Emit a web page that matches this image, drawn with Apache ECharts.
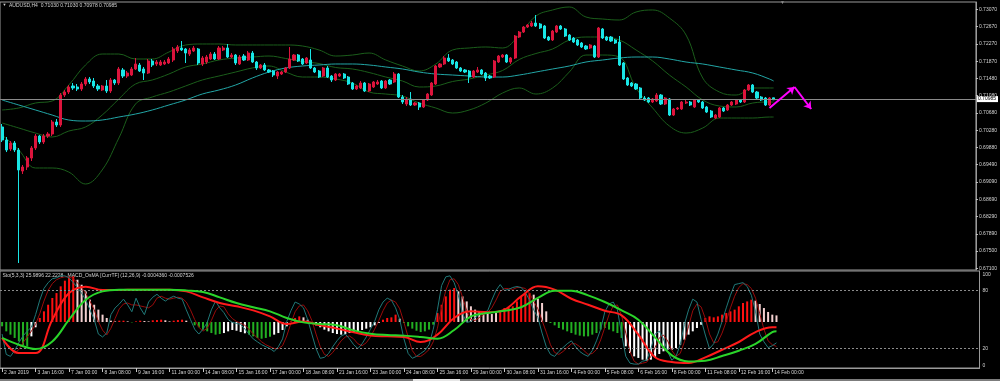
<!DOCTYPE html>
<html><head><meta charset="utf-8">
<script src="https://cdn.jsdelivr.net/npm/echarts/dist/echarts.min.js"></script>
<style>html,body{margin:0;padding:0;background:#000;overflow:hidden}#c{width:1000px;height:381px}</style>
</head><body><div id="c"></div><script>
// ---------- DATA ----------
const tickLabels = ['2 Jan 2019','3 Jan 16:00','7 Jan 00:00','8 Jan 08:00','9 Jan 16:00','11 Jan 00:00','14 Jan 08:00','15 Jan 16:00','17 Jan 00:00','18 Jan 08:00','21 Jan 16:00','23 Jan 00:00','24 Jan 08:00','25 Jan 16:00','29 Jan 00:00','30 Jan 08:00','31 Jan 16:00','4 Feb 00:00','5 Feb 08:00','6 Feb 16:00','8 Feb 00:00','11 Feb 08:00','12 Feb 16:00','14 Feb 00:00'];
const priceTicks = [0.73070,0.72670,0.72270,0.71870,0.71480,0.71080,0.70680,0.70280,0.69880,0.69490,0.69090,0.68690,0.68290,0.67890,0.67500,0.67100];
const stoTicks = [0,20,80,100];
const lastPrice = 0.70985;

const opens = [0.70357,0.70057,0.69850,0.69988,0.69827,0.69342,0.69435,0.69642,0.69873,0.70149,
0.70011,0.70149,0.70195,0.70472,0.70403,0.71094,0.71163,0.71302,0.71279,0.71233,
0.71348,0.71463,0.71417,0.71302,0.71210,0.71302,0.71186,0.71440,0.71371,0.71671,
0.71532,0.71555,0.71694,0.71786,0.71694,0.71601,0.71878,0.71809,0.71786,0.71809,
0.71832,0.71901,0.72108,0.72178,0.72155,0.72039,0.72108,0.72155,0.71809,0.71855,
0.71924,0.72039,0.71924,0.72132,0.72178,0.71970,0.72016,0.71809,0.71993,0.71901,
0.72062,0.71855,0.71717,0.71786,0.71671,0.71647,0.71532,0.71578,0.71624,0.71717,
0.71901,0.72016,0.71924,0.71832,0.71901,0.71717,0.71647,0.71532,0.71717,0.71532,
0.71440,0.71532,0.71578,0.71509,0.71371,0.71233,0.71256,0.71371,0.71186,0.71279,
0.71348,0.71417,0.71256,0.71440,0.71394,0.71578,0.71048,0.70887,0.71002,0.70864,
0.70910,0.70818,0.70979,0.71094,0.71348,0.71740,0.71809,0.71947,0.71901,0.71855,
0.71717,0.71671,0.71647,0.71509,0.71624,0.71671,0.71601,0.71532,0.71509,0.71855,
0.71970,0.72016,0.71855,0.71947,0.72431,0.72546,0.72662,0.72685,0.72754,0.72731,
0.72685,0.72431,0.72362,0.72546,0.72685,0.72616,0.72477,0.72408,0.72362,0.72293,
0.72224,0.72178,0.72224,0.71970,0.72616,0.72431,0.72431,0.72362,0.72316,0.71832,
0.71486,0.71371,0.71348,0.71256,0.71025,0.71025,0.70933,0.70956,0.71094,0.70887,
0.71002,0.70633,0.70772,0.70772,0.70910,0.70933,0.70818,0.70979,0.70933,0.70818,
0.70725,0.70564,0.70587,0.70795,0.70749,0.70864,0.70887,0.70979,0.70933,0.71210,
0.71325,0.71163,0.71048,0.71025,0.70864,0.71030];
const closes = [0.70057,0.69827,0.69988,0.69827,0.69366,0.69435,0.69642,0.69873,0.70149,0.70011,
0.70149,0.70195,0.70472,0.70403,0.71094,0.71163,0.71279,0.71256,0.71233,0.71348,
0.71463,0.71394,0.71302,0.71233,0.71302,0.71186,0.71440,0.71371,0.71694,0.71532,
0.71601,0.71694,0.71809,0.71647,0.71601,0.71878,0.71786,0.71855,0.71855,0.71855,
0.71924,0.72155,0.72201,0.72132,0.72062,0.72132,0.72178,0.71832,0.71947,0.71970,
0.72039,0.71924,0.72178,0.72178,0.71970,0.72016,0.71832,0.71970,0.71901,0.72062,
0.71855,0.71717,0.71786,0.71671,0.71624,0.71555,0.71624,0.71624,0.71717,0.71924,
0.72016,0.71878,0.71809,0.71947,0.71717,0.71624,0.71509,0.71717,0.71509,0.71440,
0.71578,0.71578,0.71486,0.71348,0.71233,0.71302,0.71371,0.71186,0.71348,0.71394,
0.71394,0.71256,0.71417,0.71348,0.71578,0.71048,0.70933,0.71002,0.70864,0.70910,
0.70818,0.70979,0.71117,0.71371,0.71763,0.71809,0.71947,0.71878,0.71809,0.71717,
0.71647,0.71624,0.71509,0.71647,0.71671,0.71578,0.71486,0.71486,0.71878,0.71993,
0.72016,0.71855,0.71947,0.72454,0.72546,0.72662,0.72708,0.72754,0.72685,0.72639,
0.72408,0.72362,0.72569,0.72685,0.72616,0.72454,0.72362,0.72316,0.72247,0.72201,
0.72155,0.72247,0.71970,0.72639,0.72408,0.72362,0.72339,0.72293,0.71786,0.71463,
0.71325,0.71302,0.71233,0.71025,0.70979,0.70933,0.71002,0.71094,0.70887,0.71025,
0.70633,0.70772,0.70795,0.70933,0.70933,0.70864,0.70979,0.70933,0.70795,0.70702,
0.70587,0.70633,0.70795,0.70725,0.70864,0.70933,0.70979,0.70933,0.71210,0.71325,
0.71163,0.71025,0.70979,0.70864,0.71025,0.70985];
const lows = [0.70011,0.69780,0.69803,0.69780,0.67222,0.69273,0.69366,0.69573,0.69827,0.69965,
0.69965,0.70103,0.70149,0.70357,0.70357,0.71048,0.71117,0.71210,0.71186,0.71186,
0.71302,0.71348,0.71256,0.71186,0.71186,0.71140,0.71140,0.71325,0.71325,0.71486,
0.71486,0.71532,0.71671,0.71624,0.71440,0.71578,0.71740,0.71763,0.71763,0.71786,
0.71809,0.71855,0.72062,0.72108,0.71832,0.71993,0.72085,0.71786,0.71763,0.71809,
0.71901,0.71901,0.71901,0.72108,0.71947,0.71947,0.71786,0.71786,0.71878,0.71878,
0.71832,0.71671,0.71694,0.71647,0.71601,0.71509,0.71463,0.71555,0.71601,0.71694,
0.71878,0.71855,0.71786,0.71809,0.71694,0.71601,0.71486,0.71509,0.71486,0.71394,
0.71417,0.71509,0.71463,0.71325,0.71210,0.71210,0.71233,0.71163,0.71163,0.71256,
0.71325,0.71233,0.71233,0.71325,0.71371,0.71025,0.70887,0.70841,0.70841,0.70841,
0.70749,0.70795,0.70956,0.71071,0.71325,0.71717,0.71786,0.71855,0.71786,0.71694,
0.71624,0.71601,0.71371,0.71486,0.71601,0.71555,0.71417,0.71463,0.71486,0.71832,
0.71947,0.71832,0.71809,0.71924,0.72408,0.72523,0.72639,0.72662,0.72662,0.72616,
0.72385,0.72339,0.72339,0.72523,0.72593,0.72431,0.72339,0.72293,0.72224,0.72178,
0.72132,0.72155,0.71947,0.71947,0.72385,0.72339,0.72316,0.72270,0.71763,0.71440,
0.71302,0.71279,0.71210,0.71002,0.70956,0.70910,0.70910,0.70933,0.70864,0.70864,
0.70610,0.70610,0.70749,0.70749,0.70887,0.70841,0.70795,0.70910,0.70772,0.70679,
0.70564,0.70541,0.70564,0.70702,0.70725,0.70841,0.70864,0.70910,0.70910,0.71186,
0.71140,0.71002,0.70956,0.70841,0.70841,0.70978];
const highs = [0.70426,0.70126,0.70034,0.70034,0.69873,0.69481,0.69688,0.69919,0.70195,0.70172,
0.70195,0.70241,0.70518,0.70541,0.71140,0.71210,0.71325,0.71371,0.71348,0.71394,
0.71509,0.71509,0.71486,0.71348,0.71325,0.71440,0.71486,0.71463,0.71740,0.71717,
0.71647,0.71740,0.71947,0.71832,0.71740,0.71924,0.71924,0.71901,0.71901,0.71901,
0.71970,0.72201,0.72247,0.72339,0.72178,0.72178,0.72224,0.72178,0.71993,0.72016,
0.72085,0.72085,0.72224,0.72224,0.72270,0.72062,0.72039,0.72016,0.72039,0.72108,
0.72108,0.71878,0.71809,0.71832,0.71694,0.71671,0.71647,0.71647,0.71740,0.72201,
0.72039,0.72039,0.71947,0.71970,0.72155,0.71740,0.71671,0.71740,0.71763,0.71555,
0.71601,0.71601,0.71601,0.71532,0.71394,0.71325,0.71417,0.71394,0.71371,0.71417,
0.71440,0.71440,0.71440,0.71463,0.71624,0.71601,0.71094,0.71048,0.71163,0.70933,
0.70933,0.71002,0.71140,0.71394,0.71786,0.71832,0.71993,0.72039,0.71924,0.71878,
0.71740,0.71694,0.71671,0.71671,0.71740,0.71694,0.71624,0.71555,0.71901,0.72016,
0.72039,0.72039,0.71970,0.72477,0.72569,0.72685,0.72731,0.72800,0.72938,0.72754,
0.72708,0.72454,0.72593,0.72708,0.72708,0.72639,0.72500,0.72431,0.72385,0.72316,
0.72247,0.72270,0.72247,0.72662,0.72639,0.72454,0.72454,0.72385,0.72454,0.71855,
0.71509,0.71394,0.71371,0.71279,0.71071,0.71048,0.71025,0.71140,0.71117,0.71048,
0.71025,0.70795,0.70818,0.70956,0.70979,0.70956,0.71002,0.71002,0.70956,0.70841,
0.70749,0.70656,0.70818,0.70818,0.70887,0.70956,0.71002,0.71002,0.71233,0.71348,
0.71348,0.71186,0.71071,0.71048,0.71048,0.71030];

// lines sampled every 4 bars (bar 0,4,...,184) plus the last bar 185
const maLong = [0.70979,0.70864,0.70749,0.70633,0.70518,0.70495,0.70518,0.70587,0.70656,0.70749,0.70864,0.70979,0.71117,0.71210,0.71325,0.71486,0.71624,0.71717,0.71763,0.71786,0.71809,0.71809,0.71786,0.71740,0.71694,0.71624,0.71578,0.71555,0.71532,0.71509,0.71509,0.71555,0.71624,0.71694,0.71763,0.71855,0.71901,0.71947,0.71970,0.71970,0.71924,0.71855,0.71809,0.71740,0.71671,0.71601,0.71463,0.71417];
const bbUpper = [0.70749,0.70795,0.70910,0.70956,0.71325,0.71786,0.72039,0.72039,0.71924,0.71924,0.72085,0.72247,0.72270,0.72270,0.72247,0.72247,0.72247,0.72247,0.72224,0.72132,0.71993,0.72016,0.72062,0.71901,0.71763,0.71647,0.71809,0.72132,0.72178,0.72201,0.72178,0.72477,0.72915,0.73054,0.73123,0.72892,0.72846,0.72823,0.73007,0.73054,0.72869,0.72477,0.71486,0.71163,0.71094,0.71256,0.71256,0.71256];
const bbMiddle = [0.70449,0.70334,0.70218,0.70126,0.70264,0.70357,0.70633,0.71002,0.71348,0.71440,0.71578,0.71740,0.71809,0.71901,0.71947,0.71970,0.71993,0.71936,0.71866,0.71820,0.71728,0.71694,0.71613,0.71509,0.71417,0.71279,0.71302,0.71405,0.71463,0.71555,0.71659,0.71913,0.72051,0.72155,0.72362,0.72431,0.72431,0.72362,0.72132,0.71878,0.71555,0.71279,0.70979,0.70841,0.70818,0.70910,0.70933,0.70933];
const bbLower = [0.70172,0.69827,0.69412,0.69412,0.69319,0.69043,0.69366,0.70103,0.70887,0.71048,0.71163,0.71302,0.71440,0.71532,0.71624,0.71717,0.71763,0.71624,0.71509,0.71509,0.71463,0.71371,0.71163,0.71117,0.71071,0.70910,0.70795,0.70679,0.70749,0.70910,0.71140,0.71256,0.71117,0.71256,0.71624,0.72016,0.72016,0.71970,0.71256,0.70795,0.70380,0.70218,0.70334,0.70564,0.70564,0.70564,0.70587,0.70587];
const macdMain = [-0.00130,-0.00253,-0.00253,0.00019,0.00236,0.00288,0.00261,0.00261,0.00264,0.00264,0.00264,0.00250,0.00201,0.00155,0.00128,0.00095,0.00046,-0.00016,0.00005,-0.00027,-0.00054,-0.00084,-0.00111,-0.00117,-0.00122,-0.00163,-0.00103,0.00033,0.00087,0.00079,0.00101,0.00209,0.00291,0.00264,0.00190,0.00141,0.00092,0.00054,-0.00103,-0.00288,-0.00326,-0.00334,-0.00288,-0.00226,-0.00163,-0.00082,-0.00043,-0.000436];
const macdSignal = [-0.00130,-0.00185,-0.00220,-0.00158,0.00019,0.00182,0.00250,0.00264,0.00264,0.00264,0.00264,0.00258,0.00245,0.00201,0.00155,0.00120,0.00087,0.00033,-0.00003,-0.00016,-0.00027,-0.00068,-0.00095,-0.00106,-0.00111,-0.00122,-0.00136,-0.00065,0.00046,0.00073,0.00092,0.00120,0.00196,0.00255,0.00255,0.00217,0.00163,0.00095,0.00019,-0.00125,-0.00272,-0.00321,-0.00315,-0.00277,-0.00234,-0.00179,-0.00082,-0.000753];

// per bar
const osma = [-0.00035,-0.00076,-0.00103,-0.00130,-0.00158,-0.00190,-0.00201,-0.00117,-0.00043,0.00033,
0.00087,0.00141,0.00196,0.00236,0.00291,0.00337,0.00364,0.00372,0.00345,0.00304,
0.00250,0.00182,0.00141,0.00101,0.00060,0.00033,0.00011,0.00005,0.00011,0.00011,
0.00005,-0.00003,0.00005,0.00011,0.00008,0.00005,0.00014,0.00016,0.00019,0.00014,
0.00005,0.00011,0.00016,0.00019,0.00011,-0.00001,-0.00027,-0.00043,-0.00062,-0.00076,
-0.00090,-0.00103,-0.00098,-0.00090,-0.00076,-0.00065,-0.00071,-0.00082,-0.00092,-0.00103,
-0.00117,-0.00130,-0.00136,-0.00130,-0.00120,-0.00103,-0.00090,-0.00065,-0.00035,0.00005,
0.00033,0.00046,0.00038,0.00019,-0.00008,-0.00027,-0.00043,-0.00062,-0.00076,-0.00090,
-0.00098,-0.00103,-0.00098,-0.00090,-0.00082,-0.00076,-0.00065,-0.00054,-0.00043,-0.00027,
-0.00008,0.00019,0.00033,0.00038,0.00060,0.00027,-0.00008,-0.00035,-0.00054,-0.00071,
-0.00082,-0.00076,-0.00062,-0.00022,0.00073,0.00141,0.00209,0.00264,0.00277,0.00250,
0.00209,0.00168,0.00128,0.00101,0.00087,0.00082,0.00073,0.00065,0.00073,0.00092,
0.00114,0.00120,0.00128,0.00168,0.00209,0.00228,0.00236,0.00223,0.00190,0.00155,
0.00087,-0.00008,-0.00027,-0.00049,-0.00062,-0.00076,-0.00090,-0.00103,-0.00111,-0.00117,
-0.00117,-0.00103,-0.00090,-0.00062,-0.00049,-0.00062,-0.00076,-0.00090,-0.00130,-0.00198,
-0.00253,-0.00280,-0.00293,-0.00307,-0.00315,-0.00307,-0.00288,-0.00261,-0.00239,-0.00226,
-0.00226,-0.00212,-0.00185,-0.00144,-0.00103,-0.00076,-0.00049,-0.00022,0.00033,0.00046,
0.00038,0.00046,0.00060,0.00073,0.00087,0.00101,0.00128,0.00155,0.00168,0.00182,
0.00174,0.00147,0.00114,0.00082,0.00060,0.00054];
// histogram buffer each bar sits in:
// R = above 0 rising, P = above 0 falling, G = below 0 (first buffer), W = below 0 (second buffer)
const osmaState = 'GGGGGGGWWRRRRRRRRRPPPPPPPP' + 'PPRRPGRRPPRRRPPRRRPG' +
  'GGGGGGGWWWWWWGGGGGGWWWW' + 'RRRPP' + 'WWWWWWWWWWWWWWWWW' + 'RRRRP' +
  'GGGGGGGG' + 'RRRRR' + 'PPPPPPPPPP' + 'RRRRRRRR' + 'PPPP' +
  'GGGGGGGGGGGGGGGGGG' + 'WWWWWWWWWWWWWWWWWWW' + 'RRRRRRRRRRRR' + 'PPPPPP';
const stoMain = [35,14,12,18,26,33,38,42,55,70,82,88,92,93,95,95,93,88,83,77,
70,60,50,35,32,36,55,62,66,71,65,58,72,62,55,68,73,76,72,69,
72,74,72,71,60,50,40,35,40,47,60,69,62,57,50,47,46,45,40,35,
30,27,24,22,20,17,22,30,48,59,68,66,62,50,35,20,10,11,15,22,
28,33,35,30,24,20,25,32,40,48,60,68,72,70,62,50,30,15,10,12,
15,18,24,40,60,85,94,95,88,75,56,47,48,52,55,57,59,70,80,86,
80,81,83,84,83,78,70,60,52,36,22,14,12,17,21,25,28,22,17,14,
12,18,28,40,58,66,68,60,35,12,5,4,4,7,8,20,35,38,30,17,
8,12,24,45,60,71,68,50,34,20,25,35,48,62,75,86,87,88,84,75,
58,35,27,21,23,25.99];
const stoSignal = [30,25,20,15,19,26,32,38,45,56,69,80,87,91,93,94,94,92,88,83,
77,69,60,48,39,34,41,51,61,66,67,65,65,64,63,62,65,72,74,72,
71,72,73,72,68,60,50,42,38,41,49,59,64,63,56,51,48,46,44,40,
35,31,27,24,22,20,20,23,33,46,58,64,65,59,49,35,22,14,12,16,
22,28,32,33,30,25,23,26,32,40,49,59,67,70,68,61,47,32,18,12,
12,15,19,27,41,62,80,91,92,86,73,59,50,49,52,55,57,62,70,79,
82,82,81,83,83,82,77,69,61,49,37,24,16,14,17,21,25,25,22,18,
14,15,19,29,42,55,64,65,54,36,17,7,4,5,6,12,21,31,34,28,
18,12,15,27,43,59,66,63,51,35,26,27,36,48,62,74,83,87,86,82,
72,56,40,28,24,22.22];
// forecast arrows drawn on the chart: [bar, price]
const arrowUp = [[184,0.70795],[190,0.71279]];
const arrowDown = [[190,0.71279],[194,0.70772]];

// ---------- BUILD ----------
const N = opens.length, NCAT = 234;
const cats = Array.from({length:NCAT},(_,i)=>String(i));
const spread4 = a => { const o = new Array(N).fill(null); a.forEach((v,k)=>{ o[Math.min(k*4,N-1)] = v; }); return o; };
const candles = opens.map((o,i)=>[o,closes[i],lows[i],highs[i]]);
const FONT = 'Liberation Sans';
const TXT = '#d4d4d4', BORDER = '#9a9a9a';
const tickShow = (i)=> i%8===0 && i/8 < tickLabels.length;
const STATE_COLOR = {R:'#ff1010', P:'#f4d0d0', G:'#22b022', W:'#ffffff'};
const osmaData = osma.map((v,i)=>({value:v, itemStyle:{color:STATE_COLOR[osmaState[i]] || '#ffffff'}}));
const line = (name,data,xi,yi,color,width,smooth,z)=>({name,type:'line',data,xAxisIndex:xi,yAxisIndex:yi,
  showSymbol:false,symbol:'none',connectNulls:true,smooth:smooth,z:z||2,silent:true,
  lineStyle:{color,width},animation:false});

const chart = echarts.init(document.getElementById('c'),null,{renderer:'canvas'});
chart.setOption({
  backgroundColor:'#000000',
  animation:false,
  grid:[
    {left:0,top:2,width:979.5,height:268,show:true,borderColor:BORDER,borderWidth:1,backgroundColor:'transparent'},
    {left:0,top:271,width:979.5,height:97,show:true,borderColor:BORDER,borderWidth:1,backgroundColor:'transparent'}
  ],
  xAxis:[
    {type:'category',gridIndex:0,data:cats,show:false,boundaryGap:true},
    {type:'category',gridIndex:1,data:cats,boundaryGap:true,
     axisLine:{show:true,lineStyle:{color:BORDER}},
     axisTick:{show:true,alignWithLabel:true,length:4,interval:(i)=>tickShow(i),lineStyle:{color:'#c8c8c8'}},
     axisLabel:{show:true,interval:(i)=>tickShow(i),formatter:(v,i)=>tickShow(i)?tickLabels[i/8]:'',
       align:'left',padding:[0,0,0,2],margin:2,color:TXT,fontSize:5,fontFamily:FONT},
     splitLine:{show:false}}
  ],
  yAxis:[
    {type:'value',gridIndex:0,position:'right',min:0.67061,max:0.73238,
     axisLine:{show:true,lineStyle:{color:BORDER}},
     axisTick:{show:true,length:2,customValues:priceTicks,lineStyle:{color:'#c8c8c8'}},
     axisLabel:{show:true,customValues:priceTicks,formatter:v=>v.toFixed(5),margin:3,color:TXT,fontSize:5,fontFamily:FONT},
     splitLine:{show:false}},
    {type:'value',gridIndex:1,position:'right',min:0,max:100,
     axisLine:{show:true,lineStyle:{color:BORDER}},axisTick:{show:false},
     axisLabel:{show:true,customValues:stoTicks,margin:3,color:TXT,fontSize:5,fontFamily:FONT,
       formatter:v=> v===100?'{t|100}':(v===0?'{b|0}':String(v)),
       rich:{t:{padding:[7,0,0,0],fontSize:5,color:TXT,fontFamily:FONT},b:{padding:[0,0,4,0],fontSize:5,color:TXT,fontFamily:FONT}}},
     splitLine:{show:false}},
    {type:'value',gridIndex:1,show:false,min:-0.00375,max:0.00416}
  ],
  graphic:[
    {type:'text',left:2.5,top:2.5,style:{text:'▼',fill:'#d0d0d0',font:'4px "'+FONT+'"'}},
    {type:'text',left:9,top:3,style:{text:'AUDUSD,H4  0.71030 0.71030 0.70978 0.70985',fill:TXT,font:'5px "'+FONT+'"'}},
    {type:'text',left:780,top:0,style:{text:'▼',fill:'#8c8c8c',font:'5px "'+FONT+'"'}},
    {type:'text',left:2.5,top:273,style:{text:'Sto(5,3,3) 25.9896 22.2228   MACD_OsMA [CurrTF] (12,26,9) -0.0004360 -0.0007526',fill:TXT,font:'5px "'+FONT+'"'}},
    {type:'rect',left:0,top:379,shape:{width:1000,height:2},style:{fill:'#7c7c7c'},silent:true},
    {type:'rect',left:413,top:379,shape:{width:47,height:2},style:{fill:'#e6e6e6'},silent:true}
  ],
  series:[
    line('BB upper',spread4(bbUpper),0,0,'#1b5e1b',1,0.4,2),
    line('BB middle',spread4(bbMiddle),0,0,'#1b5e1b',1,0.4,2),
    line('BB lower',spread4(bbLower),0,0,'#1b5e1b',1,0.4,2),
    line('MA',spread4(maLong),0,0,'#22a6a6',1,0.4,3),
    {name:'AUDUSD',type:'candlestick',xAxisIndex:0,yAxisIndex:0,data:candles,barWidth:2.6,z:4,silent:true,
     itemStyle:{color:'#dc143c',color0:'#19e6e6',borderColor:'#dc143c',borderColor0:'#19e6e6',borderWidth:1},
     markLine:{silent:true,animation:false,symbol:'none',
       data:[
         {yAxis:lastPrice,lineStyle:{color:'#8a8a8a',width:1,type:'solid'},
          label:{show:true,position:'end',distance:1,formatter:lastPrice.toFixed(5),backgroundColor:'#ffffff',color:'#000000',fontSize:5,fontFamily:FONT,padding:[1,2,0,1]}},
         [{coord:[String(arrowUp[0][0]),arrowUp[0][1]],symbol:'none',lineStyle:{color:'#ff00ff',width:2,type:'solid'},label:{show:false}},
          {coord:[String(arrowUp[1][0]),arrowUp[1][1]],symbol:'arrow',symbolSize:7}],
         [{coord:[String(arrowDown[0][0]),arrowDown[0][1]],symbol:'none',lineStyle:{color:'#ff00ff',width:2,type:'solid'},label:{show:false}},
          {coord:[String(arrowDown[1][0]),arrowDown[1][1]],symbol:'arrow',symbolSize:7}]
       ]}},
    {name:'OsMA',type:'bar',xAxisIndex:1,yAxisIndex:2,data:osmaData,barWidth:2,z:2,silent:true,animation:false},
    line('Sto signal',stoSignal,1,1,'#990b0b',1,false,3),
    Object.assign(line('Sto main',stoMain,1,1,'#207878',1,false,3),{
      markLine:{silent:true,symbol:'none',animation:false,label:{show:false},
        lineStyle:{color:'#8c8c8c',type:[2,2],width:1},data:[{yAxis:20},{yAxis:80}]}}),
    line('MACD',spread4(macdMain),1,2,'#ff1a1a',2,0.4,4),
    line('Signal',spread4(macdSignal),1,2,'#2ad42a',2,0.4,5)
  ]
});
</script></body></html>
